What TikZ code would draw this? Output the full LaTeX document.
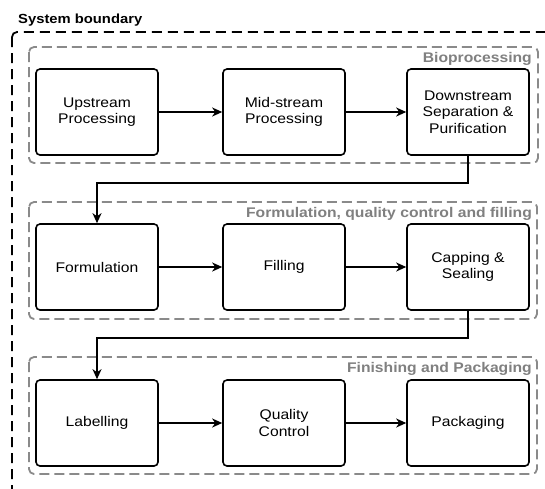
\documentclass[tikz,border=0pt]{standalone}
\usepackage{fontspec}
\setmainfont{Liberation Sans}[FakeStretch=1.12]
\usetikzlibrary{arrows.meta}
\definecolor{grp}{HTML}{8A8A8A}
\definecolor{grptxt}{HTML}{808080}
\tikzset{
  proc/.style={draw=black, line width=1.6pt, rounded corners=4pt, minimum width=122pt, minimum height=86pt, align=center, inner sep=2pt, font=\fontsize{14}{16.5}\selectfont},
  grpbox/.style={draw=grp, line width=1.8pt, dash pattern=on 10pt off 5pt, rounded corners=5pt},
  grplabel/.style={text=grptxt, font=\fontsize{14}{17}\selectfont\bfseries, inner sep=0pt},
  outerbox/.style={draw=black, line width=1.8pt, dash pattern=on 10pt off 6pt, rounded corners=5pt},
  arr/.style={line width=1.5pt, -{Stealth[length=10pt, width=9pt, inset=3pt]}},
  conn/.style={line width=1.5pt}
}
\begin{document}
\begin{tikzpicture}[x=1pt, y=-1pt]
\useasboundingbox (0,0) rectangle (545,488);
\clip (0,0) rectangle (545,488);
\fill[white] (0,0) rectangle (545,488);
% system boundary
\node[anchor=base west, inner sep=0pt, font=\fontsize{13.2}{15}\selectfont\bfseries] (sysl) at (18,23) {System boundary};
\draw[outerbox] (12,32) rectangle (565,520);
% groups
\draw[grpbox] (29,47) rectangle (538,163);
\draw[grpbox] (29,202) rectangle (537,319);
\draw[grpbox] (29,357) rectangle (537,474);
\node[grplabel, anchor=base east] (g1) at (532,62) {Bioprocessing};
\node[grplabel, anchor=base east] (g2) at (532,217) {Formulation, quality control and filling};
\node[grplabel, anchor=base east] (g3) at (532,372) {Finishing and Packaging};
% row 1
\node[proc] (up) at (97,112) {Upstream\\Processing};
\node[proc] (mid) at (284,112) {Mid-stream\\Processing};
\node[proc] (down) at (468,112) {Downstream\\Separation \&\\Purification};
% row 2
\node[proc] (form) at (97,267) {Formulation};
\node[proc] (fill) at (284,267) {Filling};
\node[proc] (cap) at (468,267) {Capping \&\\Sealing};
% row 3
\node[proc] (lab) at (97,423) {Labelling};
\node[proc] (qc) at (284,423) {Quality\\Control};
\node[proc] (pack) at (468,423) {Packaging};
% connectors
\draw[arr] (up) -- (mid);
\draw[arr] (mid) -- (down);
\draw[arr] (form) -- (fill);
\draw[arr] (fill) -- (cap);
\draw[arr] (lab) -- (qc);
\draw[arr] (qc) -- (pack);
\coordinate (k1) at (284,183);
\coordinate (k2) at (284,338);
\draw[arr] (down.south) |- (k1) -| (form.north);
\draw[arr] (cap.south) |- (k2) -| (lab.north);
\end{tikzpicture}
\end{document}
